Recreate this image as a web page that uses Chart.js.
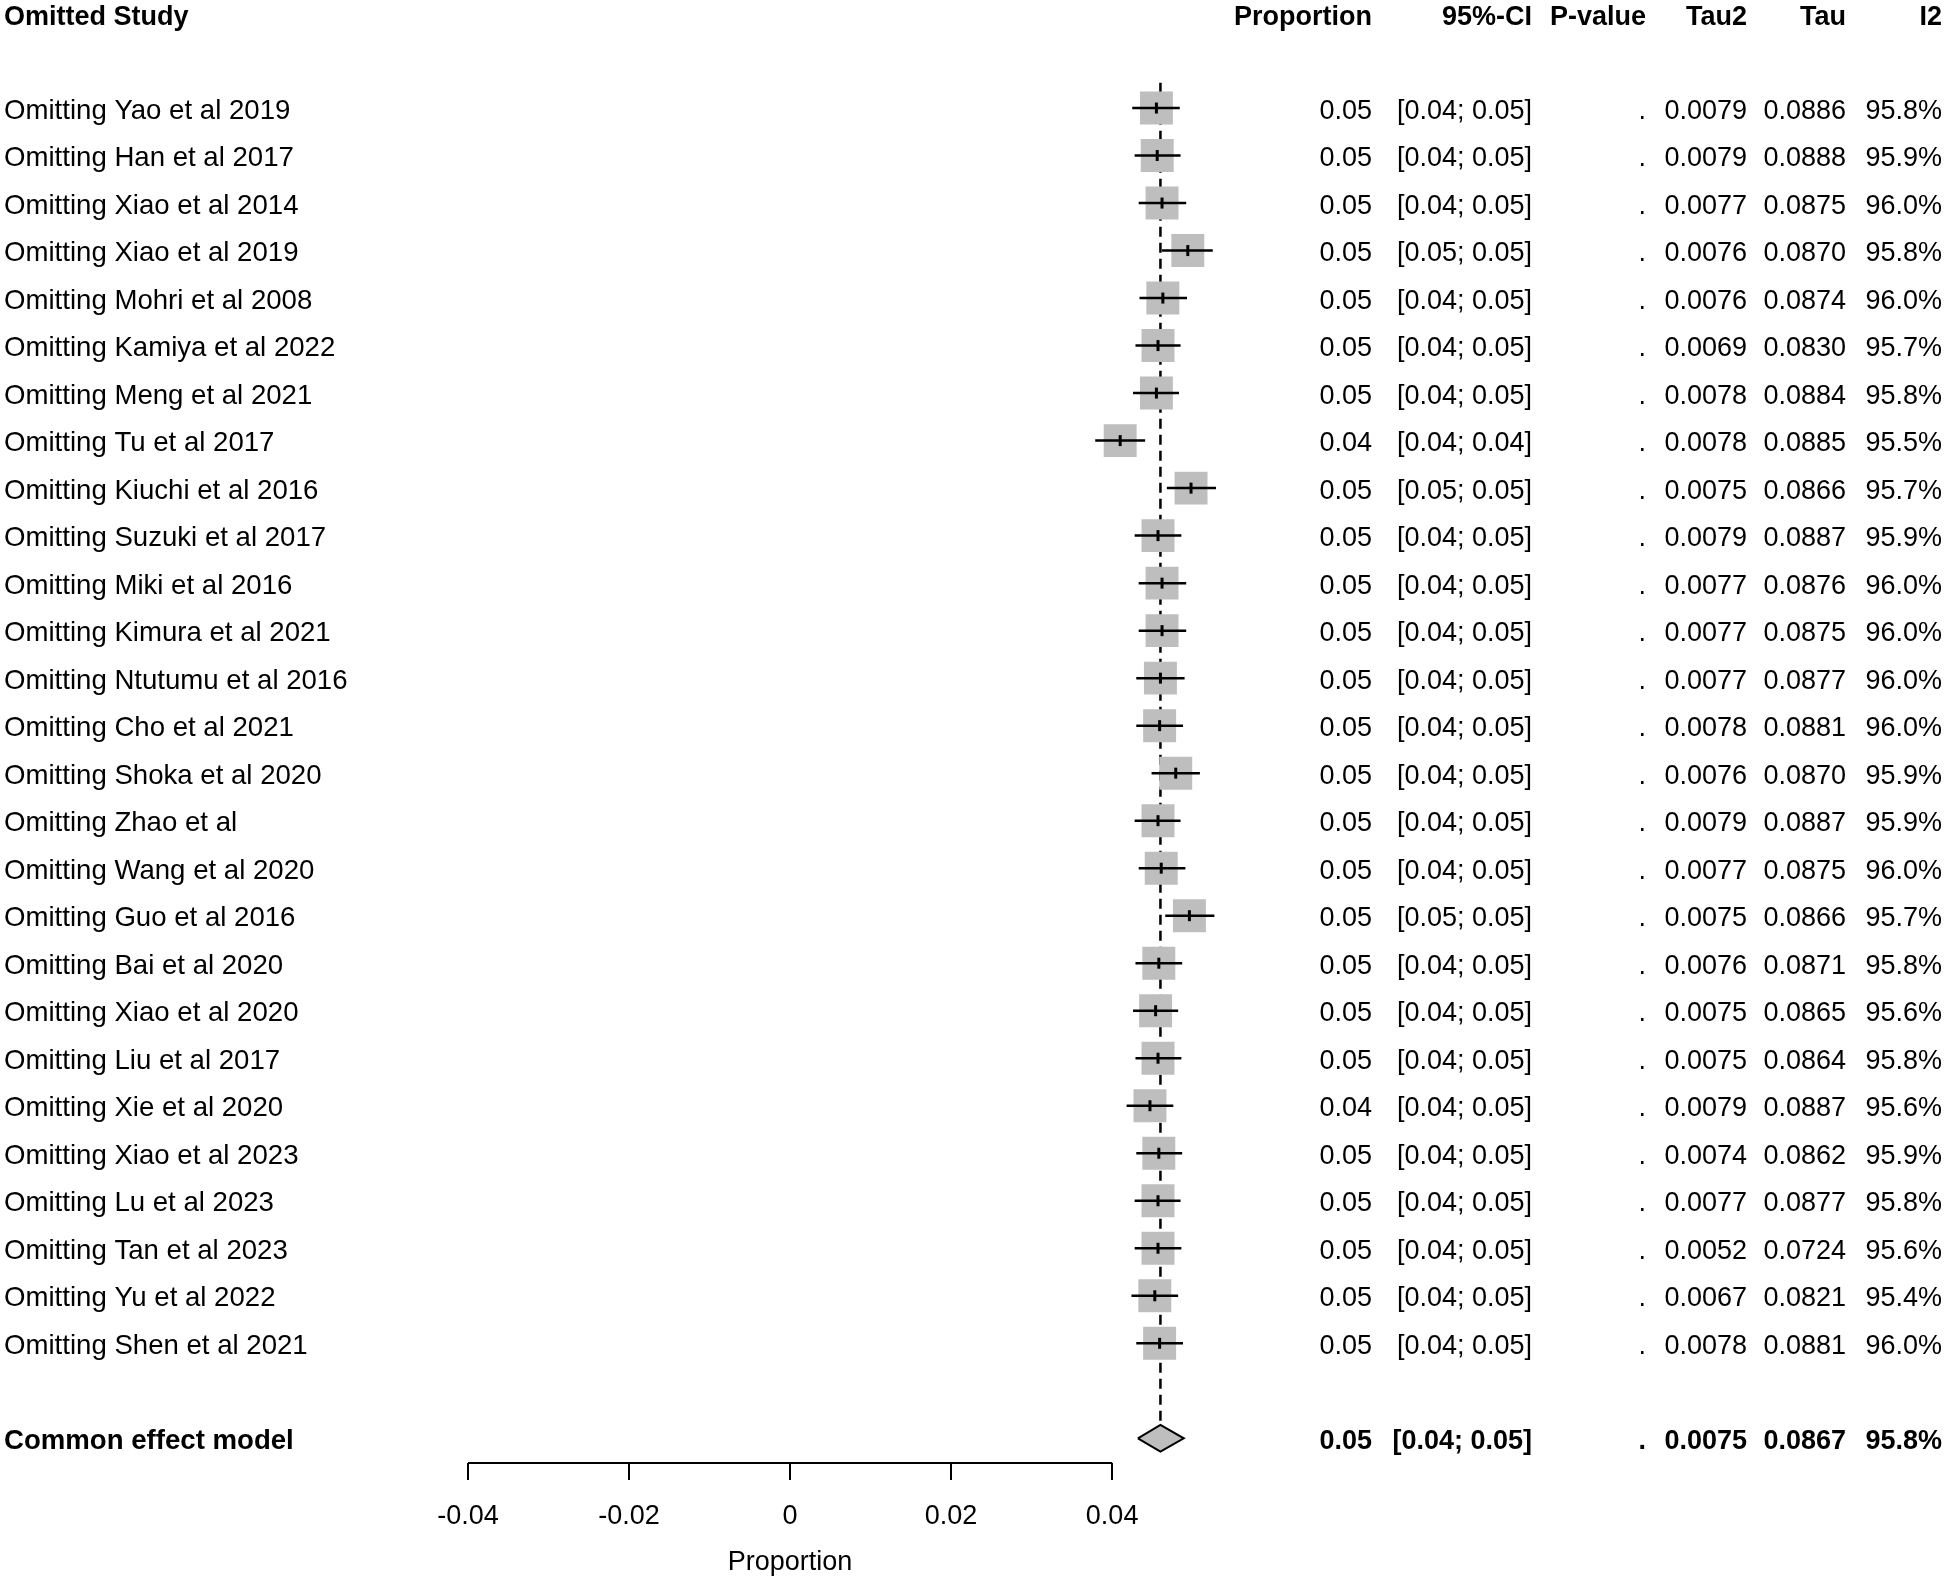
<!DOCTYPE html>
<html>
<head>
<meta charset="utf-8">
<title>Leave-one-out forest plot</title>
<script src="https://cdn.jsdelivr.net/npm/chart.js@4.4.1/dist/chart.umd.min.js"></script>
<style>
  html, body { margin: 0; padding: 0; background: #fff; }
  #wrap { width: 1945px; height: 1580px; }
</style>
</head>
<body>
<div id="wrap"><canvas id="forest" width="1945" height="1580"></canvas></div>
<script>
// leave-one-out results, one entry per omitted study
const studies = [
  'Omitting Yao et al 2019', 'Omitting Han et al 2017', 'Omitting Xiao et al 2014',
  'Omitting Xiao et al 2019', 'Omitting Mohri et al 2008', 'Omitting Kamiya et al 2022',
  'Omitting Meng et al 2021', 'Omitting Tu et al 2017', 'Omitting Kiuchi et al 2016',
  'Omitting Suzuki et al 2017', 'Omitting Miki et al 2016', 'Omitting Kimura et al 2021',
  'Omitting Ntutumu et al 2016', 'Omitting Cho et al 2021', 'Omitting Shoka et al 2020',
  'Omitting Zhao et al', 'Omitting Wang et al 2020', 'Omitting Guo et al 2016',
  'Omitting Bai et al 2020', 'Omitting Xiao et al 2020', 'Omitting Liu et al 2017',
  'Omitting Xie et al 2020', 'Omitting Xiao et al 2023', 'Omitting Lu et al 2023',
  'Omitting Tan et al 2023', 'Omitting Yu et al 2022', 'Omitting Shen et al 2021'
];
const estimate = [0.0455, 0.0456, 0.0462, 0.0494, 0.0463, 0.0457, 0.0455, 0.0410, 0.0498,
  0.0457, 0.0462, 0.0462, 0.0460, 0.0459, 0.0479, 0.0457, 0.0461, 0.0496,
  0.0458, 0.0454, 0.0457, 0.0447, 0.0458, 0.0457, 0.0457, 0.0453, 0.0459];
const lower = [0.0425, 0.0428, 0.0433, 0.0462, 0.0434, 0.0429, 0.0426, 0.0379, 0.0468,
  0.0428, 0.0433, 0.0433, 0.0430, 0.0430, 0.0449, 0.0428, 0.0433, 0.0466,
  0.0429, 0.0426, 0.0429, 0.0418, 0.0430, 0.0428, 0.0428, 0.0424, 0.0430];
const upper = [0.0484, 0.0485, 0.0492, 0.0525, 0.0493, 0.0485, 0.0483, 0.0441, 0.0529,
  0.0486, 0.0492, 0.0492, 0.0490, 0.0488, 0.0509, 0.0485, 0.0491, 0.0527,
  0.0487, 0.0482, 0.0486, 0.0476, 0.0487, 0.0485, 0.0486, 0.0482, 0.0488];
const pValue = studies.map(() => '.');
const tau2 = [0.0079, 0.0079, 0.0077, 0.0076, 0.0076, 0.0069, 0.0078, 0.0078, 0.0075,
  0.0079, 0.0077, 0.0077, 0.0077, 0.0078, 0.0076, 0.0079, 0.0077, 0.0075,
  0.0076, 0.0075, 0.0075, 0.0079, 0.0074, 0.0077, 0.0052, 0.0067, 0.0078];
const tau = [0.0886, 0.0888, 0.0875, 0.0870, 0.0874, 0.0830, 0.0884, 0.0885, 0.0866,
  0.0887, 0.0876, 0.0875, 0.0877, 0.0881, 0.0870, 0.0887, 0.0875, 0.0866,
  0.0871, 0.0865, 0.0864, 0.0887, 0.0862, 0.0877, 0.0724, 0.0821, 0.0881];
const i2 = [95.8, 95.9, 96.0, 95.8, 96.0, 95.7, 95.8, 95.5, 95.7,
  95.9, 96.0, 96.0, 96.0, 96.0, 95.9, 95.9, 96.0, 95.7,
  95.8, 95.6, 95.8, 95.6, 95.9, 95.8, 95.6, 95.4, 96.0];

// common effect model
const pooledLabel = 'Common effect model';
const pooledEstimate = 0.0460;
const pooledLower = 0.0432;
const pooledUpper = 0.0489;
const pooledTau2 = 0.0075;
const pooledTau = 0.0867;
const pooledI2 = 95.8;

// x axis
const axisTicks = [-0.04, -0.02, 0, 0.02, 0.04];
const tickLabels = ['-0.04', '-0.02', '0', '0.02', '0.04'];
const axisTitle = 'Proportion';
const headers = ['Omitted Study', 'Proportion', '95%-CI', 'P-value', 'Tau2', 'Tau', 'I2'];

// layout
const FONT = "'Liberation Sans', Arial, Helvetica, sans-serif";
const FS = 27;
const LABEL_FS = 27.6;
const yMin = -2.274, yMax = 28.52;
const pooledRow = studies.length + 1;
const colRight = [1372, 1532, 1646, 1747, 1846, 1942];
const squareColor = '#bebebe';
const BASE_DROP = 10.5; // baseline sits a bit below the row centre

const ciSegments = [];
studies.forEach((s, i) => {
  ciSegments.push({x: lower[i], y: i}, {x: upper[i], y: i}, {x: null, y: null});
});

const fmtCI = (lo, hi) => '[' + lo.toFixed(2) + '; ' + hi.toFixed(2) + ']';

const tablePlugin = {
  id: 'forestTable',
  afterDraw(chart) {
    const ctx = chart.ctx;
    const ys = chart.scales.y;
    const xs = chart.scales.x;
    ctx.save();
    ctx.fillStyle = '#000';
    ctx.textBaseline = 'alphabetic';

    function put(txt, x, y, align, bold, size) {
      ctx.font = (bold ? 'bold ' : '') + (size || FS) + 'px ' + FONT;
      ctx.textAlign = align;
      ctx.fillText(txt, x, y + BASE_DROP);
    }
    function rowCells(y, label, est, lo, hi, p, t2, t, h, bold) {
      put(label, 4, y, 'left', bold, LABEL_FS);
      put(est.toFixed(2), colRight[0], y, 'right', bold);
      put(fmtCI(lo, hi), colRight[1], y, 'right', bold);
      put(p, colRight[2], y, 'right', bold);
      put(t2.toFixed(4), colRight[3], y, 'right', bold);
      put(t.toFixed(4), colRight[4], y, 'right', bold);
      put(h.toFixed(1) + '%', colRight[5], y, 'right', bold);
    }

    const hy = ys.getPixelForValue(-2) + 1;
    put(headers[0], 4, hy, 'left', true);
    for (let c = 1; c < headers.length; c++) put(headers[c], colRight[c - 1], hy, 'right', true);

    studies.forEach((s, i) => {
      rowCells(ys.getPixelForValue(i), s, estimate[i], lower[i], upper[i], pValue[i], tau2[i], tau[i], i2[i], false);
    });
    rowCells(ys.getPixelForValue(pooledRow), pooledLabel, pooledEstimate, pooledLower, pooledUpper, '.',
      pooledTau2, pooledTau, pooledI2, true);

    // axis title centred under the drawn axis
    ctx.textBaseline = 'middle';
    ctx.font = FS + 'px ' + FONT;
    ctx.textAlign = 'center';
    ctx.fillText(axisTitle, xs.getPixelForValue(0), 1563);
    ctx.restore();
  }
};

new Chart(document.getElementById('forest'), {
  type: 'scatter',
  data: {
    datasets: [
      {
        // reference line at the pooled estimate
        data: [{x: pooledEstimate, y: -0.53}, {x: pooledEstimate, y: pooledRow - 0.28}],
        showLine: true, borderColor: '#000', borderWidth: 2.5, borderDash: [10, 6],
        pointRadius: 0, order: 4
      },
      {
        // weight squares
        data: studies.map((s, i) => ({x: estimate[i], y: i})),
        pointStyle: 'rect', pointRadius: 23.3, backgroundColor: squareColor,
        borderWidth: 0, order: 3
      },
      {
        // confidence intervals
        data: ciSegments,
        showLine: true, spanGaps: false, borderColor: '#000', borderWidth: 2.5,
        pointRadius: 0, order: 1
      },
      {
        // point estimates
        data: studies.map((s, i) => ({x: estimate[i], y: i})),
        pointStyle: 'line', rotation: 90, pointRadius: 5.5, borderColor: '#000',
        borderWidth: 3, order: 0
      },
      {
        // pooled diamond
        data: [
          {x: pooledLower, y: pooledRow}, {x: pooledEstimate, y: pooledRow - 0.28},
          {x: pooledUpper, y: pooledRow}, {x: pooledEstimate, y: pooledRow + 0.28},
          {x: pooledLower, y: pooledRow}
        ],
        showLine: true, fill: 'shape', backgroundColor: squareColor, borderColor: '#000',
        borderWidth: 2, borderJoinStyle: 'miter', pointRadius: 0, order: 2
      },
      {
        // x axis line, only over the tick range
        data: [{x: axisTicks[0], y: yMax}, {x: axisTicks[axisTicks.length - 1], y: yMax}],
        showLine: true, borderColor: '#000', borderWidth: 2, pointRadius: 0,
        clip: false, order: 0
      }
    ]
  },
  options: {
    responsive: false,
    animation: false,
    events: [],
    layout: { autoPadding: false, padding: { left: 468, right: 696, top: 0, bottom: 0 } },
    plugins: {
      legend: { display: false },
      tooltip: { enabled: false },
      title: { display: false }
    },
    scales: {
      x: {
        type: 'linear',
        min: -0.04,
        max: 0.057,
        afterBuildTicks: (scale) => { scale.ticks = axisTicks.map(v => ({value: v})); },
        afterFit: (scale) => { scale.height = 117; },
        border: { display: false },
        grid: { drawOnChartArea: false, drawTicks: true, tickLength: 17, color: '#000', lineWidth: 2 },
        ticks: {
          padding: 20,
          color: '#000',
          maxRotation: 0,
          autoSkip: false,
          font: { family: FONT, size: FS },
          callback: (v, idx) => tickLabels[idx]
        }
      },
      y: {
        type: 'linear',
        reverse: true,
        min: yMin,
        max: yMax,
        display: false
      }
    }
  },
  plugins: [tablePlugin]
});
</script>
</body>
</html>
